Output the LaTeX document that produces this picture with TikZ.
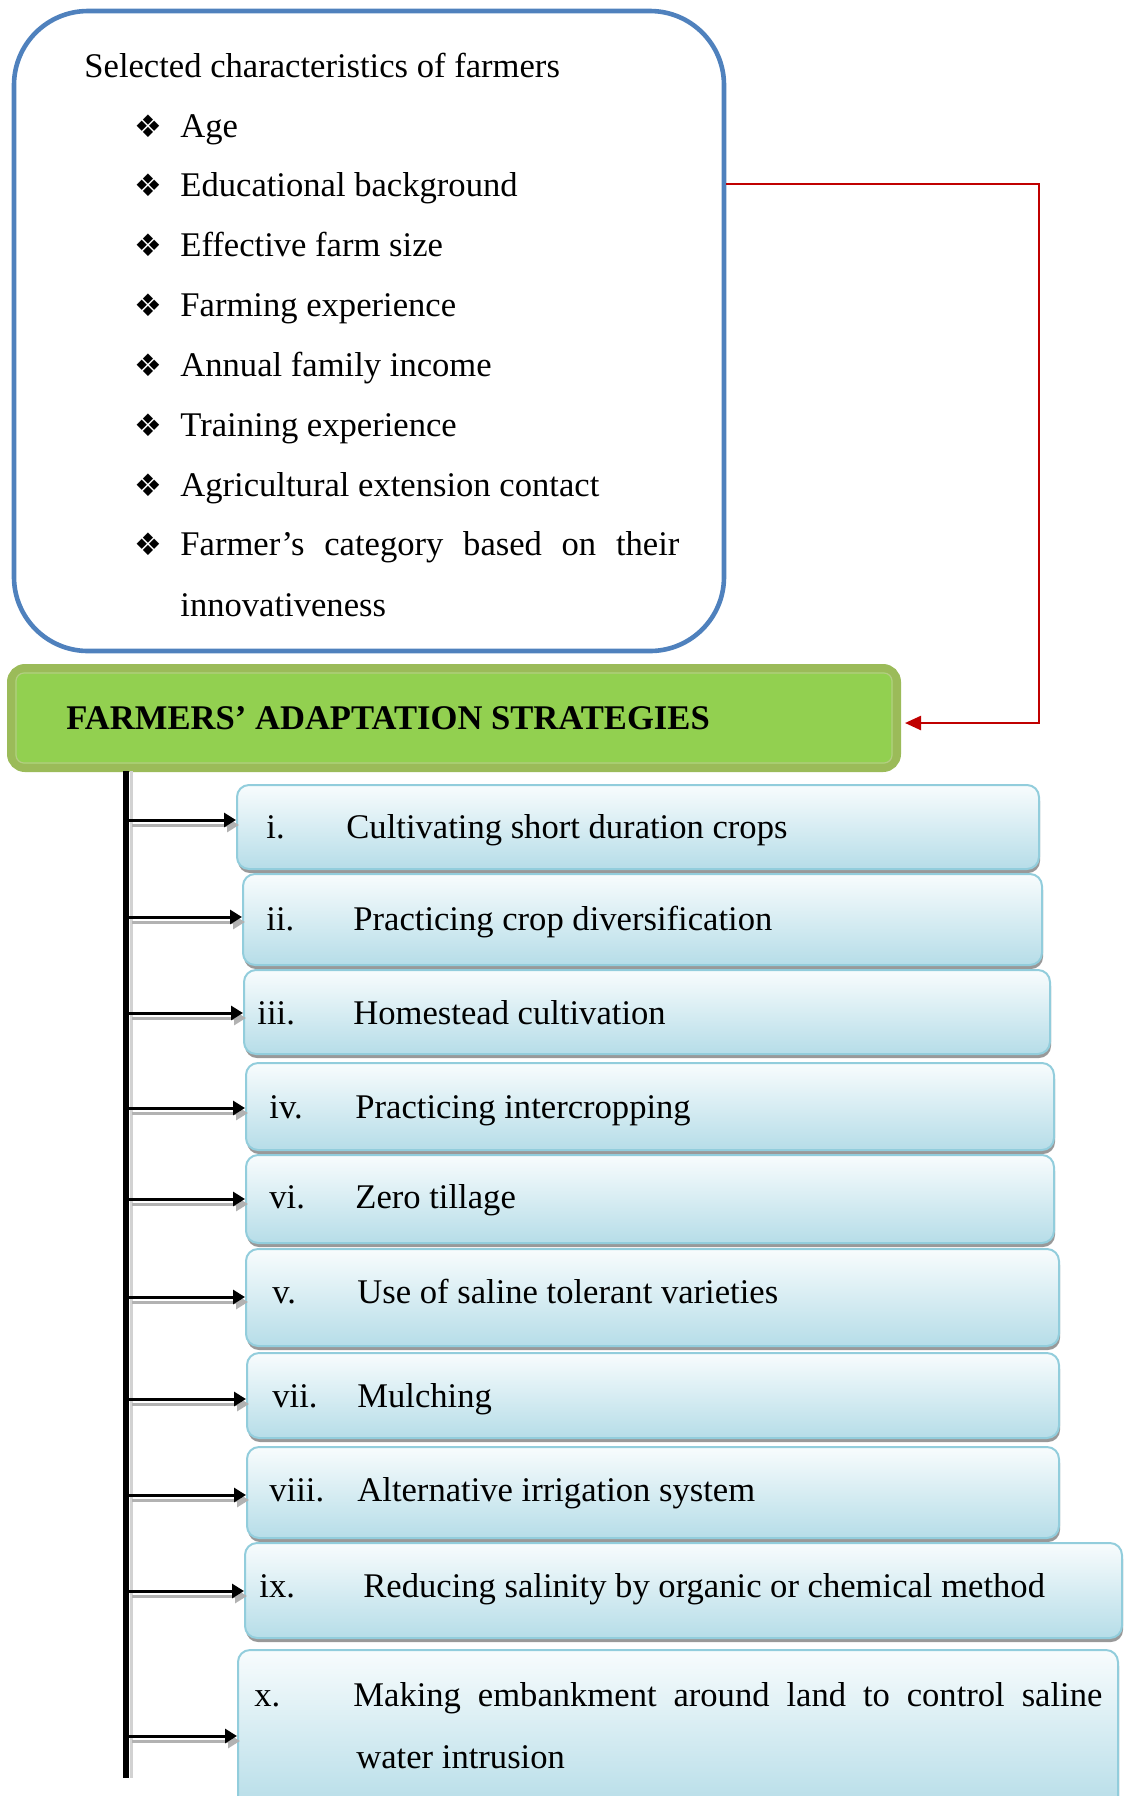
\documentclass[tikz,border=0pt]{standalone}
\usepackage{fontspec}
\setmainfont{Liberation Serif}
\newfontfamily\symfont{DejaVu Sans}
\usetikzlibrary{arrows.meta,shadows}
\definecolor{charblue}{HTML}{4F81BD}
\definecolor{linkred}{HTML}{C00000}
\definecolor{leafgreen}{HTML}{92D050}
\definecolor{leafedge}{HTML}{9BBB59}
\definecolor{itemedge}{HTML}{92CDDC}
\definecolor{itemtop}{HTML}{F8FCFD}
\definecolor{itembottom}{HTML}{B6DDE8}

\begin{document}
\begin{tikzpicture}
  [x=0.5pt,y=-0.5pt,
   every node/.style={inner sep=0pt,font=\fontsize{17.3}{31}\selectfont},
   charbox/.style={draw=charblue,line width=2.3pt,rounded corners=37pt,minimum width=355pt,minimum height=320pt},
   leafbox/.style={draw=leafedge,fill=leafgreen,line width=4pt,rounded corners=7pt,minimum width=443pt,minimum height=50pt},
   itembox/.style={draw=itemedge,line width=1pt,rounded corners=6pt,top color=itemtop,bottom color=itembottom,
     drop shadow={shadow xshift=0.5pt,shadow yshift=-2pt,fill=black!40,opacity=1}},
   link/.style={draw=linkred,line width=1.2pt,-{Triangle[length=8pt,width=7pt]}},
   branch/.style={line width=1.5pt,-{Triangle[length=6pt,width=7pt]}},
   branchshade/.style={draw=gray!60,line width=1.5pt,-{Triangle[length=6pt,width=7pt]}}]
  \useasboundingbox (0,0) rectangle (1124,1796);

  % characteristics
  \node[charbox] (chars) at (369,331) {};
  \node[anchor=base west] (ctitle) at (84,77) {Selected characteristics of farmers};
  \foreach \n/\t in {1/Age,2/Educational background,3/Effective farm size,4/Farming experience,
    5/Annual family income,6/Training experience,7/Agricultural extension contact,8/{\makebox[249.5pt][s]{Farmer’s category based on their}}}
  {
    \node[anchor=base west] (d\n) at (134,{137+59.85*(\n-1)}) {\symfont\fontsize{15.5}{15.5}\selectfont ❖};
    \node[anchor=base west] (c\n) at (180,{137+59.85*(\n-1)}) {\t};
  }
  \node[anchor=base west] (c8b) at (180,616) {innovativeness};

  % strategies
  \node[leafbox] (adapt) at (454,718) {};
  \draw[leafedge!75!white,line width=0.6pt,rounded corners=4pt]
    ([shift={(9,9)}]adapt.north west) rectangle ([shift={(-9,-9)}]adapt.south east);
  \node[anchor=base west,font=\bfseries\fontsize{17.3}{31}\selectfont] (atitle) at (66,729) {FARMERS’ ADAPTATION STRATEGIES};

  \coordinate (redturn) at (1039,184);
  \draw[link,shorten >=2pt] (chars.east |- redturn) -- (redturn) |- ([yshift=-2.5pt]adapt.east);

  \coordinate (stop) at (126,771);
  \coordinate (sbot) at (126,1778);
  \draw[gray!35,line width=1.5pt] ([xshift=2.5pt]stop) -- ([xshift=2.5pt]sbot);
  \draw[line width=3pt] (stop) -- (sbot);

  \foreach \n/\l/\t/\r/\b/\nx/\tx/\ty/\ay/\num/\txt in {
    1/237/785/1039/869/266/346/838/820/i./Cultivating short duration crops,
    2/243/874/1042/965/266/353/930/917/ii./Practicing crop diversification,
    3/244/970/1050/1054/257/353/1024/1013/iii./Homestead cultivation,
    4/246/1063/1054/1150/269/355/1118/1108/iv./Practicing intercropping,
    5/246/1155/1054/1243/269/355/1208/1199/vi./Zero tillage,
    6/246/1249/1059/1346/272/357/1303/1297/v./Use of saline tolerant varieties,
    7/247/1353/1059/1438/272/357/1407/1399/vii./Mulching,
    8/247/1447/1059/1538/269/357/1501/1495/viii./Alternative irrigation system,
    9/245/1543/1122/1638/259/363/1597/1591/ix./Reducing salinity by organic or chemical method,
    10/238/1650/1118/1810/254/353/1706/1736/x./{\makebox[374.5pt][s]{Making embankment around land to control saline}}}
  {
    \node[itembox,minimum width={(\r-\l)*0.5pt},minimum height={(\b-\t)*0.5pt}] (b\n) at ({(\l+\r)/2},{(\t+\b)/2}) {};
    \node[anchor=base west] (n\n) at (\nx,\ty) {\num};
    \node[anchor=base west] (t\n) at (\tx,\ty) {\txt};
    \coordinate (a\n) at (126,\ay);
    \coordinate (e\n) at (a\n -| b\n.west);
    \draw[branchshade] ([shift={(6,5)}]a\n) -- ([shift={(3,5)}]e\n);
    \draw[branch] (a\n) -- (e\n);
  }
  \node[anchor=base west] (t10b) at (356,1768) {water intrusion};
\end{tikzpicture}
\end{document}
